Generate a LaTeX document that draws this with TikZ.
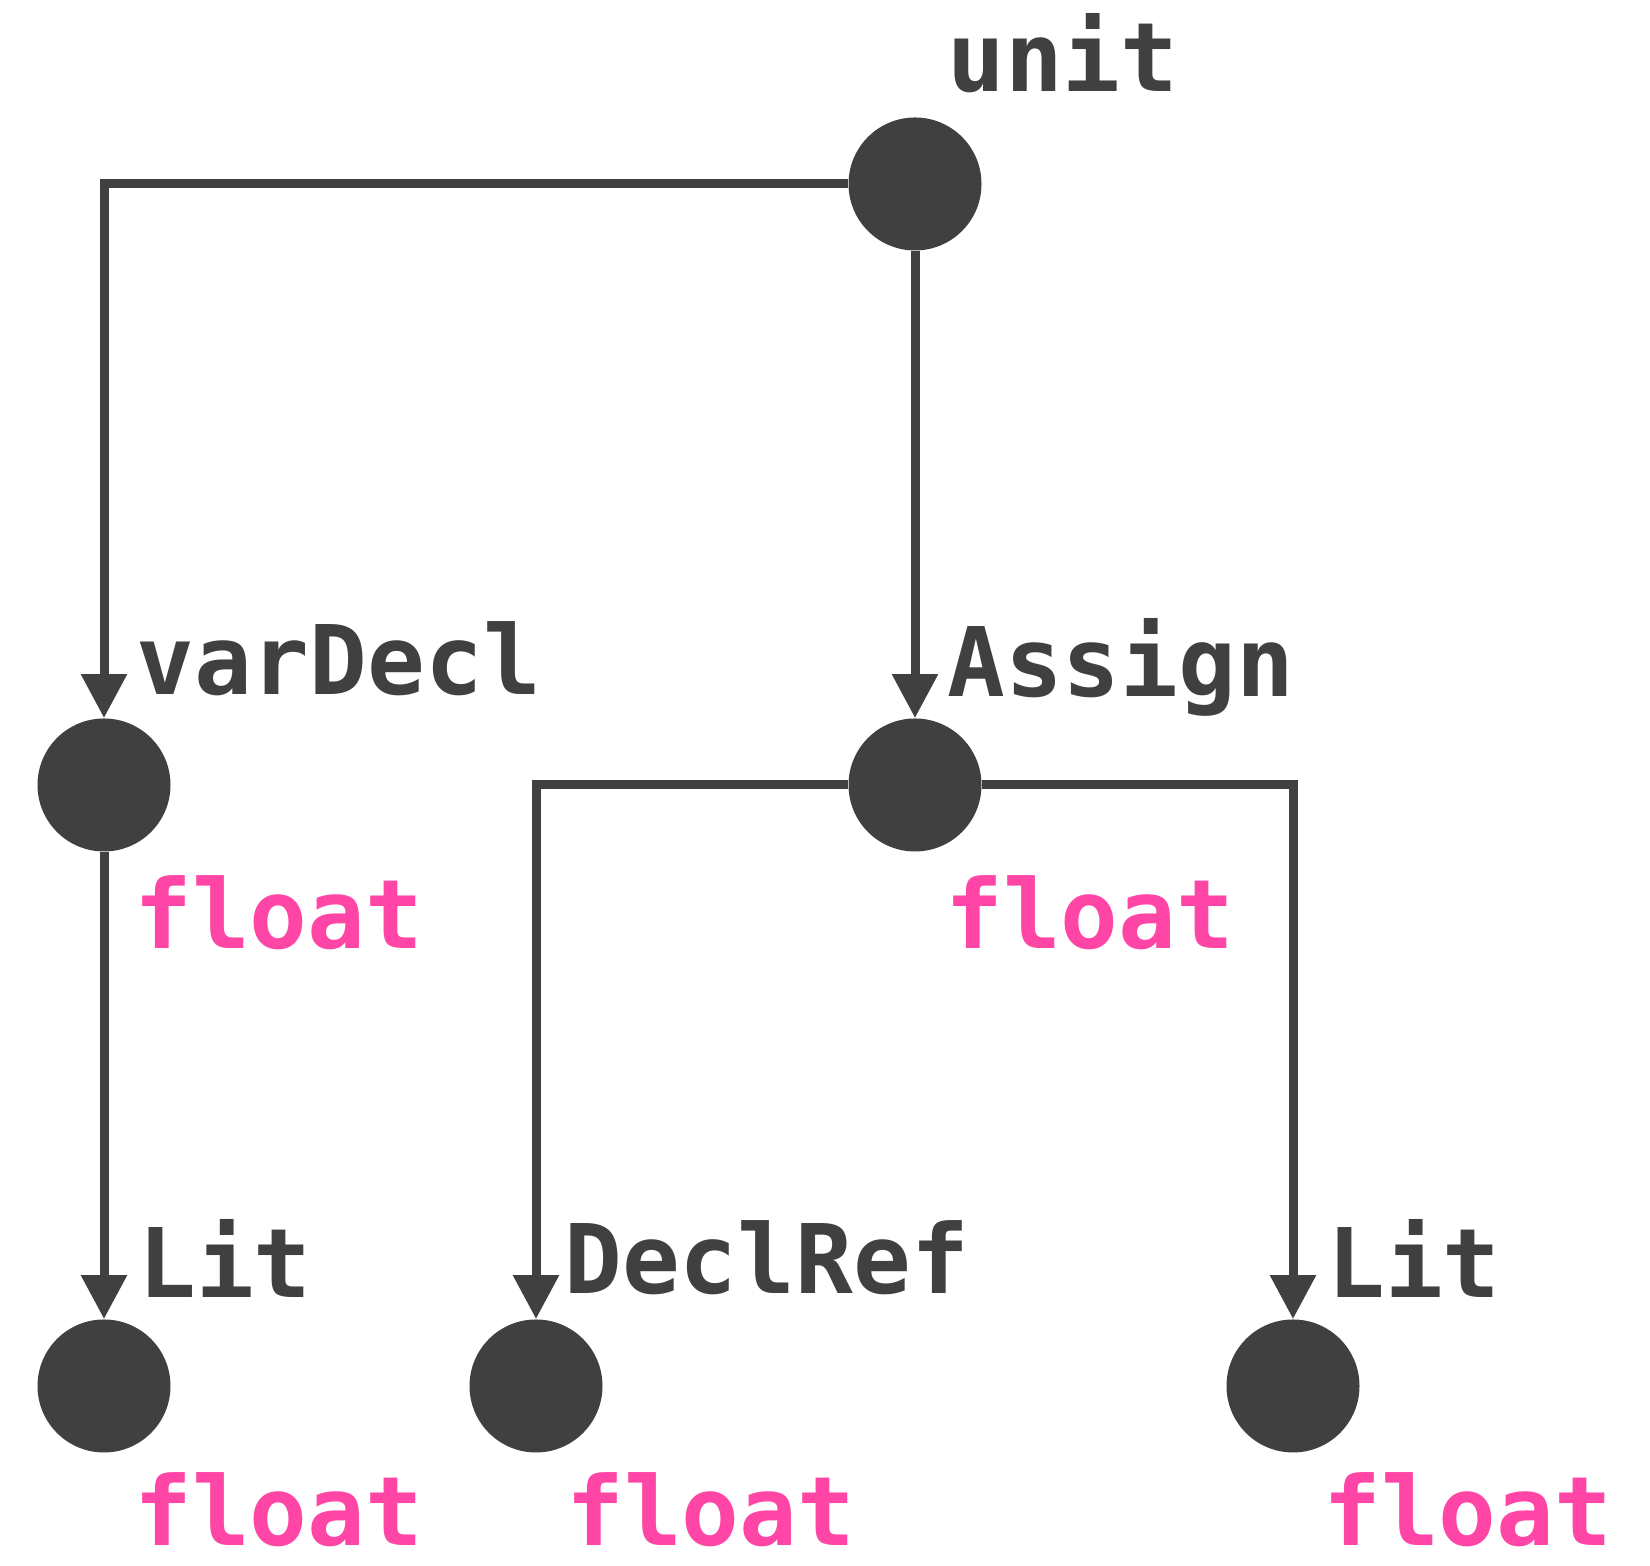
\documentclass[tikz,border=0pt]{standalone}
\usepackage{fontspec}
\usetikzlibrary{arrows.meta,calc}
\newfontfamily\handfont{DejaVu Sans Mono Bold}
\definecolor{inkgray}{RGB}{64,64,64}
\definecolor{typepink}{RGB}{255,69,166}

\begin{document}
\begin{tikzpicture}[x=0.5pt,y=0.5pt,
    astnode/.style={circle,fill=inkgray,inner sep=0pt,minimum size=66.5pt},
    branch/.style={draw=inkgray,line width=4.5pt,-{Triangle[length=22pt,width=22pt]}},
    kindlabel/.style={anchor=base west,inner sep=0pt,text=inkgray,font={\handfont\fontsize{48pt}{56pt}\selectfont}},
    typelabel/.style={kindlabel,text=typepink}]
        \useasboundingbox (0,0) rectangle (1650,1566);

        % tree nodes
        \node[astnode] (unit) at (915,1382) {};
        \node[astnode] (vardecl) at (104,781) {};
        \node[astnode] (assign) at (915,781) {};
        \node[astnode] (litl) at (104,180) {};
        \node[astnode] (declref) at (536,180) {};
        \node[astnode] (litr) at (1293,180) {};

        % node kinds above right, types below right
        \node[kindlabel] (unitkind) at ($(unit)+(32,92)$) {unit};
        \node[kindlabel] (vardeclkind) at ($(vardecl)+(32,90)$) {varDecl};
        \node[typelabel] (vardecltype) at ($(vardecl)+(30,-164)$) {float};
        \node[kindlabel] (assignkind) at ($(assign)+(32,88)$) {Assign};
        \node[typelabel] (assigntype) at ($(assign)+(30,-164)$) {float};
        \node[kindlabel] (litlkind) at ($(litl)+(34,88)$) {Lit};
        \node[typelabel] (litltype) at ($(litl)+(30,-160)$) {float};
        \node[kindlabel] (declrefkind) at ($(declref)+(28,92)$) {DeclRef};
        \node[typelabel] (declreftype) at ($(declref)+(30,-160)$) {float};
        \node[kindlabel] (litrkind) at ($(litr)+(34,88)$) {Lit};
        \node[typelabel] (litrtype) at ($(litr)+(30,-160)$) {float};

        % edges
        \draw[branch] (unit.west) -| (vardecl.north);
        \draw[branch] (unit.south) -- (assign.north);
        \draw[branch] (vardecl.south) -- (litl.north);
        \draw[branch] (assign.west) -| (declref.north);
        \draw[branch] (assign.east) -| (litr.north);

        \end{tikzpicture}
\end{document}
